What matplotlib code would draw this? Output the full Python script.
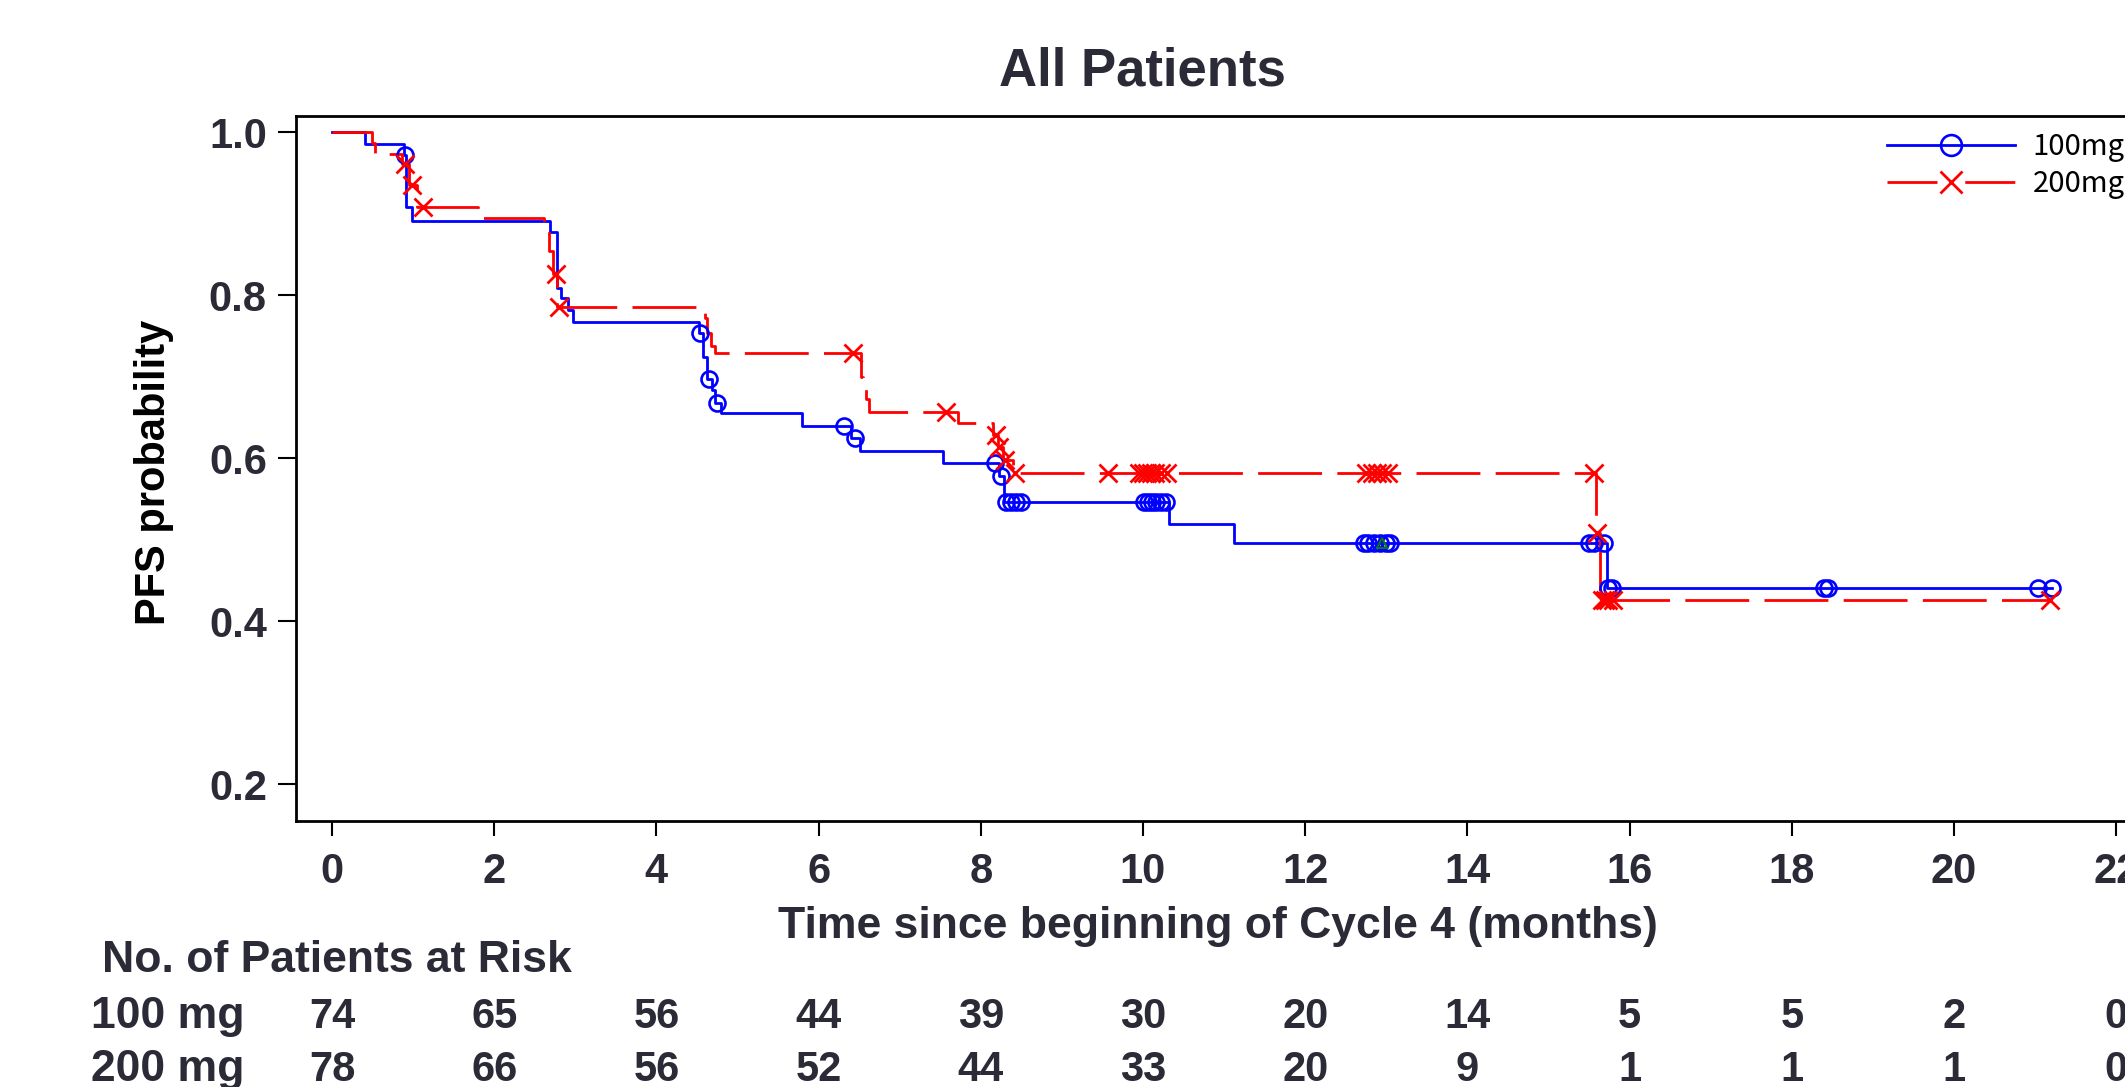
import numpy as np
import matplotlib.pyplot as plt
import matplotlib.transforms as mtransforms
from matplotlib.lines import Line2D

# 100 mg arm: step times (months) and PFS right after each step
t100 = [0, 0.41, 0.89, 0.91, 0.99, 2.69, 2.78, 2.82, 2.91, 2.97, 4.52, 4.58, 4.62,
        4.68, 4.72, 4.80, 5.79, 6.40, 6.51, 7.54, 8.22, 8.29, 10.32, 11.12, 15.72, 21.21]
s100 = [1.0, 0.986, 0.972, 0.909, 0.891, 0.878, 0.809, 0.797, 0.782, 0.768, 0.754, 0.725, 0.697,
        0.684, 0.668, 0.656, 0.640, 0.625, 0.609, 0.594, 0.578, 0.546, 0.520, 0.496, 0.441, 0.441]
# censored times
c100 = [0.90, 4.54, 4.65, 4.745, 6.31, 6.45, 8.18, 8.25, 8.31, 8.37, 8.43, 8.49,
        10.01, 10.06, 10.11, 10.16, 10.22, 10.28, 12.72, 12.78, 12.85, 12.92, 13.0, 13.05,
        15.50, 15.56, 15.68, 15.74, 15.78, 18.40, 18.45, 21.03, 21.21]

# 200 mg arm
t200 = [0, 0.49, 0.53, 0.86, 0.95, 1.05, 1.80, 2.62, 2.67, 2.72, 2.78, 4.60, 4.63, 4.67,
        4.72, 6.52, 6.55, 6.58, 6.62, 7.72, 8.15, 8.21, 8.27, 8.40, 15.58, 15.63, 21.19]
s200 = [1.0, 0.987, 0.974, 0.961, 0.935, 0.908, 0.895, 0.880, 0.854, 0.826, 0.786, 0.772, 0.754, 0.738,
        0.729, 0.700, 0.690, 0.673, 0.657, 0.643, 0.629, 0.614, 0.598, 0.582, 0.508, 0.426, 0.426]
c200 = [0.90, 0.99, 1.12, 2.76, 2.80, 6.42, 7.57, 8.19, 8.23, 8.30, 8.42, 9.57,
        9.95, 10.0, 10.05, 10.1, 10.15, 10.22, 10.3, 12.75, 12.82, 12.88, 12.95, 13.02,
        15.56, 15.60, 15.66, 15.70, 15.74, 15.80, 21.18]

# faint third marker hidden under the blue curve
c_all = [12.95]

xticks = list(range(0, 23, 2))
yticks = [0.2, 0.4, 0.6, 0.8, 1.0]
risk100 = [74, 65, 56, 44, 39, 30, 20, 14, 5, 5, 2, 0]
risk200 = [78, 66, 56, 52, 44, 33, 20, 9, 1, 1, 1, 0]


def km_at(t, s, c):
    idx = np.searchsorted(t, c, side='right') - 1
    return np.asarray(s)[idx]


W, H = 2125, 1087
txt = '#2a2b36'
plt.rcParams['font.family'] = ['Liberation Sans', 'DejaVu Sans']

fig = plt.figure(figsize=(W / 100, H / 100), dpi=100)
# axes runs past the right edge, like the cropped original
ax = fig.add_axes([296 / W, 1 - 820.5 / H, 1844.5 / W, 704.5 / H])

lw = 2.0
dash = (0, (46 / lw, 11 / lw))
ax.step(t100, s100, where='post', color='#0000ff', lw=lw)
ax.step(t200, s200, where='post', color='#ff0000', lw=lw, linestyle=dash)
ax.plot(c100, km_at(t100, s100, c100), 'o', ms=11.5, mfc='none', mec='#0000ff', mew=1.9)
ax.plot(c200, km_at(t200, s200, c200), 'x', ms=12.5, mec='#ff0000', mew=2.0)
ax.plot(c_all, km_at(t100, s100, c_all), '^', ms=7, mfc='none', mec='green', mew=1.4)

ax.set_xlim(-0.444, 22.3)
ax.set_ylim(0.1558, 1.0202)
ax.set_xticks(xticks)
ax.set_yticks(yticks)
ax.set_yticklabels([f'{v:.1f}' for v in yticks])
ax.tick_params(axis='both', direction='out', width=1.5, labelsize=30, labelcolor=txt)
ax.tick_params(axis='x', length=11, pad=12)
ax.tick_params(axis='y', length=13, pad=8)
for lab in ax.get_xticklabels() + ax.get_yticklabels():
    lab.set_fontweight('bold')
for sp in ax.spines.values():
    sp.set_linewidth(2)

fig.text(1142 / W, 1 - 85 / H, 'All Patients', ha='center', va='baseline',
         fontsize=38, fontweight='bold', color=txt)
fig.text(154 / W, 1 - 472 / H, 'PFS probability', ha='center', va='center', rotation=90,
         fontsize=30, fontweight='bold', color='black')
fig.text(1218 / W, 1 - 938 / H, 'Time since beginning of Cycle 4 (months)', ha='center',
         va='baseline', fontsize=32, fontweight='bold', color=txt)

# number at risk table
fig.text(102 / W, 1 - 972 / H, 'No. of Patients at Risk', ha='left', va='baseline',
         fontsize=32, fontweight='bold', color=txt)
rows = [('100 mg', risk100, 1028), ('200 mg', risk200, 1081)]
blend = mtransforms.blended_transform_factory(ax.transData, fig.transFigure)
for name, vals, yb in rows:
    fig.text(91 / W, 1 - yb / H, name, ha='left', va='baseline',
             fontsize=32, fontweight='bold', color=txt)
    for x, v in zip(xticks, vals):
        ax.text(x, 1 - yb / H, str(v), transform=blend, ha='center', va='baseline',
                fontsize=30, fontweight='bold', color=txt, clip_on=False)

handles = [
    Line2D([], [], color='#0000ff', lw=lw, marker='o', ms=15, mfc='none', mec='#0000ff', mew=1.9),
    Line2D([], [], color='#ff0000', lw=lw, linestyle=(0, (36 / lw, 20 / lw)), marker='x', ms=16,
           mec='#ff0000', mew=2.0),
]
fig.legend(handles, ['100mg', '200mg'], loc='upper left', bbox_to_anchor=(1887 / W, 1 - 132 / H),
           frameon=False, borderpad=0, borderaxespad=0, handlelength=4.4, handletextpad=0.6,
           labelspacing=0.25, numpoints=1,
           prop={'family': ['Noto Sans CJK JP', 'DejaVu Sans'], 'size': 21})

fig.savefig('out.png', dpi=100)
